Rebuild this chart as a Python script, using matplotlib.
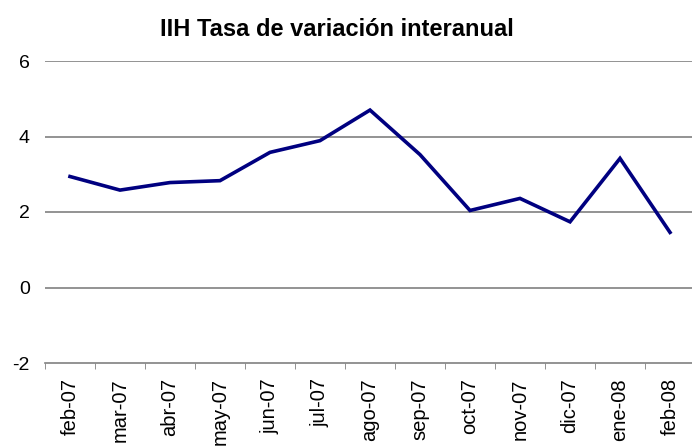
import numpy as np
import matplotlib
matplotlib.use("Agg")
import matplotlib.pyplot as plt

plt.rcParams['font.family'] = ['Liberation Sans', 'DejaVu Sans']
plt.rcParams['axes.unicode_minus'] = False

months = ['feb-07', 'mar-07', 'abr-07', 'may-07', 'jun-07', 'jul-07', 'ago-07',
          'sep-07', 'oct-07', 'nov-07', 'dic-07', 'ene-08', 'feb-08']
values = [2.94, 2.58, 2.78, 2.83, 3.58, 3.89, 4.70,
          3.52, 2.04, 2.36, 1.74, 3.42, 1.46]
yticks = [-2, 0, 2, 4, 6]

fig = plt.figure(figsize=(6.92, 4.46), dpi=100)
ax = fig.add_axes([45/692, 1-363/446, 650/692, 302/446])

x = np.arange(len(months))
ax.plot(x, values, color='#000080', lw=2.6, solid_joinstyle='miter')

ax.set_xlim(-0.5, len(months)-0.5)
ax.set_ylim(-2, 6)
ax.set_yticks(yticks)
for y in yticks[1:]:
    ax.axhline(y, color='#808080', lw=1.2, zorder=0)

ax.set_xticks(x)
ax.set_xticklabels(months, rotation=90, fontsize=14.5)
ax.set_xticks(np.arange(len(months)+1)-0.5, minor=True)
ax.tick_params(axis='x', which='major', length=0, pad=11)
ax.tick_params(axis='x', which='minor', length=4, color='#808080', direction='out')
ax.tick_params(axis='y', length=0, labelsize=14, pad=11)

for s in ['top', 'right', 'left']:
    ax.spines[s].set_visible(False)
ax.spines['bottom'].set_color('#808080')
ax.spines['bottom'].set_linewidth(1.2)

fig.text(337/692, 1-29/446, 'IIH Tasa de variación interanual', ha='center', va='center',
         fontsize=17, fontweight='bold')

fig.savefig('out.png', dpi=100)
